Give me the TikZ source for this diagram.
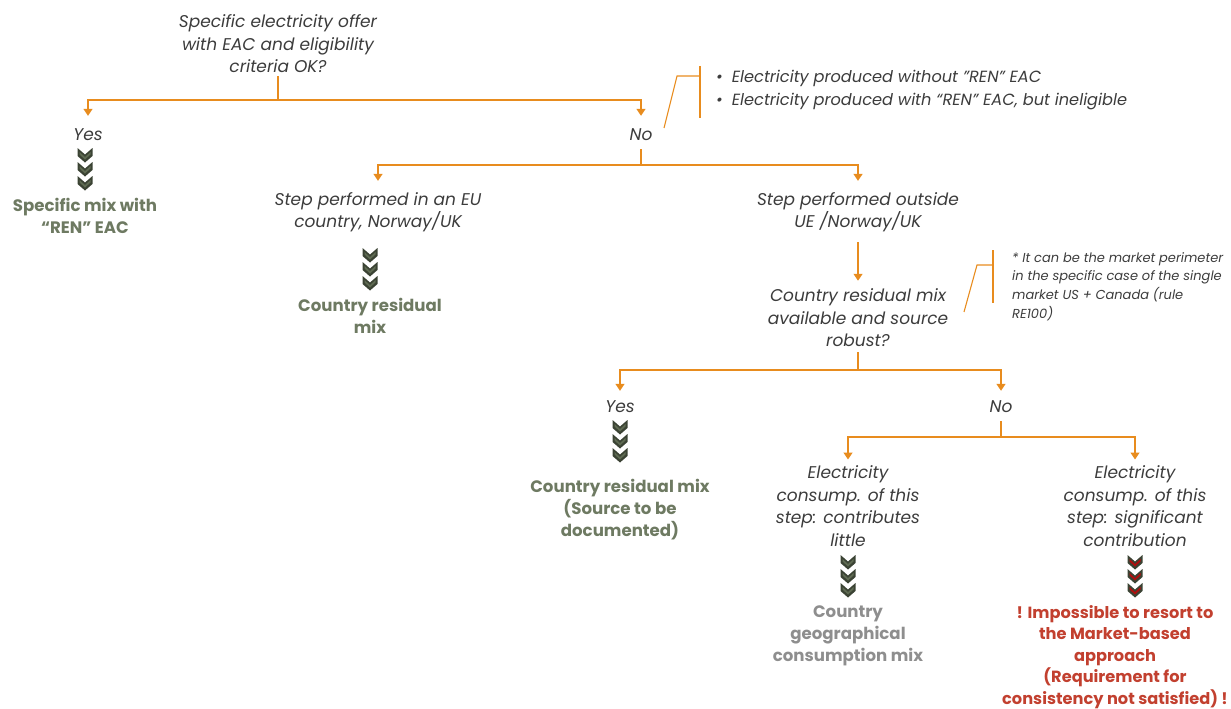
\documentclass[tikz,border=0pt]{standalone}
\usepackage{fontspec}
\setmainfont{Poppins}
\usetikzlibrary{arrows.meta}
\definecolor{orng}{HTML}{E88C1E}
\definecolor{txtgray}{HTML}{3C3C3C}
\definecolor{resgreen}{HTML}{6E7A62}
\definecolor{resgray}{HTML}{8E8E8E}
\definecolor{resred}{HTML}{C2402F}
\definecolor{chevdark}{HTML}{3B4334}
\definecolor{chevmid}{HTML}{5E6A52}
\definecolor{chevred}{HTML}{B00E0E}
\def\chevinner{chevmid}
\tikzset{
  chev inner/.code={\def\chevinner{#1}},
  chev/.pic={
    \foreach \i in {0,1,2}{
      \fill[chevdark] (-7.5,\i*14) -- (0,\i*14+6.5) -- (7.5,\i*14) -- (7.5,\i*14+8) -- (0,\i*14+14.5) -- (-7.5,\i*14+8) -- cycle;
      \fill[\chevinner] (-5.5,\i*14+4) -- (0,\i*14+9) -- (5.5,\i*14+4) -- (5.5,\i*14+6.5) -- (0,\i*14+11.5) -- (-5.5,\i*14+6.5) -- cycle;
    }
  },
  q/.style={font=\fontsize{17}{22.5}\selectfont\itshape, text=txtgray, align=center, inner sep=0pt},
  res/.style={font=\fontsize{16.6}{22}\selectfont\bfseries, text=resgreen, align=center, inner sep=0pt},
  conn/.style={draw=orng, line width=1.3pt},
  arr/.style={conn, -{Triangle[width=9pt,length=7pt]}},
  callout/.style={draw=orng, line width=1.1pt},
  note/.style={font=\fontsize{13}{18.8}\selectfont\itshape, text=txtgray, align=left, inner sep=0pt},
  bul/.style={font=\fontsize{16.2}{23}\selectfont\itshape, text=txtgray, align=left, inner sep=0pt},
}
\begin{document}
\begin{tikzpicture}[x=1pt,y=-1pt]
\useasboundingbox (0,0) rectangle (1231,709);
% nodes
\node[q] (q1) at (278,44) {Specific electricity offer\\with EAC and eligibility\\criteria OK?};
\node[q] (yes1) at (88,135) {Yes};
\node[q] (no1) at (641,135) {No};
\node[res] (res1) at (85,216) {Specific mix with\\“REN” EAC};
\node[q] (eu) at (378,212) {Step performed in an EU\\country, Norway/UK};
\node[res] (res2) at (370,316) {Country residual\\mix};
\node[q] (out) at (858,212) {Step performed outside\\UE /Norway/UK};
\node[q] (q2) at (858,318) {Country residual mix\\available and source\\robust?};
\node[q] (yes2) at (620,407) {Yes};
\node[q] (no2) at (1001,407) {No};
\node[res] (res3) at (620,510) {Country residual mix\\(Source to be\\documented)};
\node[q] (little) at (848,506) {Electricity\\consump. of this\\step: contributes\\little};
\node[q] (signif) at (1135,506) {Electricity\\consump. of this\\step: significant\\contribution};
\node[res, text=resgray] (res4) at (848,636) {Country\\geographical\\consumption mix};
\node[res, text=resred, font=\fontsize{16.2}{21.6}\selectfont\bfseries] (res5) at (1115,657) {! Impossible to resort to\\the Market-based\\approach\\(Requirement for\\consistency not satisfied) !};
\node[bul, anchor=west] (bullets) at (716,90) {\textbullet\hspace{9pt}Electricity produced without "REN" EAC\\\textbullet\hspace{9pt}Electricity produced with “REN” EAC, but ineligible};
\node[note, anchor=north west] (note) at (1012,252) {* It can be the market perimeter\\in the specific case of the single\\market US + Canada (rule\\RE100)};
% chevrons
\pic at (85,148) {chev};
\pic at (370,248) {chev};
\pic at (620,420) {chev};
\pic at (848,555) {chev};
\pic[chev inner=chevred] at (1135,555) {chev};
% connectors
\coordinate (j1) at (278,100);
\draw[conn] (q1.south) ++(0,3) -- (j1);
\draw[arr] (j1) -| ([yshift=13pt]yes1.north);
\draw[arr] (j1) -| ([yshift=13pt]no1.north);
\coordinate (j2) at (641,165);
\draw[conn] (no1.south) ++(0,8) -- (j2);
\draw[arr] (j2) -| ([yshift=11pt]eu.north);
\draw[arr] (j2) -| ([yshift=11pt]out.north);
\draw[arr] (out.south) ++(0,10) -- ([yshift=8pt]q2.north);
\coordinate (j3) at (858,370);
\draw[conn] (q2.south) ++(0,5) -- (j3);
\draw[arr] (j3) -| ([yshift=10pt]yes2.north);
\draw[arr] (j3) -| ([yshift=10pt]no2.north);
\coordinate (j4) at (1001,437);
\draw[conn] (no2.south) ++(0,8) -- (j4);
\draw[arr] (j4) -| ([yshift=6pt]little.north);
\draw[arr] (j4) -| ([yshift=6pt]signif.north);
% callouts
\draw[callout] (664,128) -- (677,76) -- (700,76);
\draw[callout] (700,66) -- (700,118);
\draw[callout] (964,312) -- (977,265) -- (993,265);
\draw[callout] (993,250) -- (993,303);
\end{tikzpicture}
\end{document}
